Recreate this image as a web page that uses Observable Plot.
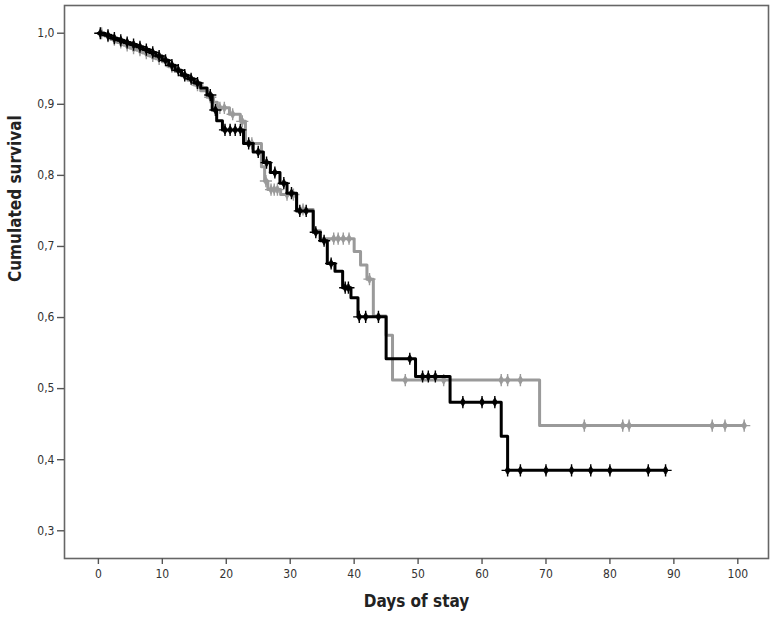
<!DOCTYPE html>
<html>
<head>
<meta charset="utf-8">
<script src="https://cdn.jsdelivr.net/npm/d3@7"></script>
<script src="https://cdn.jsdelivr.net/npm/@observablehq/plot@0.6"></script>
<style>
  html, body { margin: 0; padding: 0; background: #fff; }
</style>
</head>
<body>
<div id="chart"></div>
<script>
// ---- Data ----
const xTicks = [0, 10, 20, 30, 40, 50, 60, 70, 80, 90, 100];
const yTicks = [0.3, 0.4, 0.5, 0.6, 0.7, 0.8, 0.9, 1.0];

// Black group: step times and survival after each step
const blackTime = [0, 1, 2, 3, 4, 5, 6, 7, 8, 9, 10, 11, 12, 13, 14, 15, 16, 17, 17.8, 18.5, 19.4, 22.7, 24.2, 25.8, 26.9, 28.4, 29.5, 31.0, 33.6, 34.7, 35.8, 37.0, 38.2, 39.5, 40.6, 45, 49.6, 55, 63, 64];
const blackSurv = [1.000, 0.997, 0.993, 0.990, 0.987, 0.984, 0.981, 0.977, 0.973, 0.968, 0.962, 0.955, 0.948, 0.941, 0.936, 0.930, 0.923, 0.913, 0.892, 0.877, 0.864, 0.845, 0.833, 0.818, 0.804, 0.789, 0.775, 0.750, 0.720, 0.708, 0.676, 0.665, 0.642, 0.628, 0.601, 0.542, 0.517, 0.481, 0.433, 0.385];
const blackEnd = 88.7;
const blackCensor = [0.3, 1.5, 2.5, 3.5, 4.5, 5.5, 6.5, 7.5, 8.5, 9.5, 10.5, 11.5, 12.5, 13.5, 14.5, 15.5, 17.5, 18.3, 19.8, 20.6, 21.4, 22.2, 23.5, 25, 26.3, 27.6, 29, 30.2, 31.5, 32.5, 34, 35.3, 36.4, 38.6, 39.1, 40.8, 41.8, 43.8, 48.7, 50.7, 51.6, 52.7, 57, 60, 62, 64, 66, 70, 74, 77, 80, 86, 88.7];

// Grey group
const greyTime = [0, 1, 2, 3, 4, 5, 6, 7, 8, 9, 10, 11, 12, 13, 14, 15, 16, 17, 18, 18.6, 20.5, 22.2, 23, 25.5, 26, 26.5, 28.5, 31, 33.6, 34.7, 40, 41, 42, 43, 45, 46, 69];
const greySurv = [1.000, 0.996, 0.991, 0.987, 0.983, 0.979, 0.976, 0.972, 0.968, 0.964, 0.960, 0.953, 0.946, 0.940, 0.934, 0.927, 0.919, 0.910, 0.903, 0.895, 0.886, 0.876, 0.845, 0.812, 0.792, 0.780, 0.773, 0.752, 0.722, 0.711, 0.693, 0.674, 0.654, 0.602, 0.575, 0.512, 0.448];
const greyEnd = 101;
const greyCensor = [0.5, 1.5, 2.5, 3.5, 4.5, 5.5, 6.5, 7.5, 8.5, 9.5, 11.5, 13.5, 15.5, 17.5, 19, 19.7, 21, 22.5, 24, 26.2, 27, 27.5, 28, 29.5, 30.5, 32, 36.8, 37.5, 38.3, 39.2, 42.4, 48, 54, 63, 64, 66, 76, 82, 83, 96, 98, 101];

// ---- Build tables ----
function stepLine(T, S, end) {
  const pts = T.map((t, i) => ({t, s: S[i]}));
  pts.push({t: end, s: S[S.length - 1]});
  return pts;
}
function survAt(T, S, t) {
  let s = S[0];
  for (let i = 0; i < T.length; i++) if (T[i] <= t) s = S[i];
  return s;
}
const blackLine = stepLine(blackTime, blackSurv, blackEnd);
const greyLine = stepLine(greyTime, greySurv, greyEnd);
const blackMarks = blackCensor.map(t => ({t, s: survAt(blackTime, blackSurv, t)}));
const greyMarks = greyCensor.map(t => ({t, s: survAt(greyTime, greySurv, t)}));

const fmt = d => d.toFixed(1).replace(".", ",");
const font = "'Liberation Sans Narrow', 'DejaVu Sans Condensed', 'Liberation Sans', Arial, sans-serif";

const chart = Plot.plot({
  width: 774,
  height: 622,
  marginLeft: 64,
  marginRight: 6,
  marginTop: 5,
  marginBottom: 64,
  x: {domain: [-5.3, 104.8]},
  y: {domain: [0.261, 1.039]},
  style: {fontFamily: font, fontSize: "12px", color: "#333", background: "#fff"},
  marks: [
    Plot.frame({stroke: "#666", strokeWidth: 1.6}),
    Plot.axisX(xTicks, {tickSize: 6, tickPadding: 5, label: null, stroke: "#555", strokeWidth: 1.4, fontSize: 12}),
    Plot.axisY(yTicks, {tickSize: 7, tickPadding: 3, label: null, tickFormat: fmt, stroke: "#555", strokeWidth: 1.4, fontSize: 12}),
    Plot.line(greyLine, {x: "t", y: "s", curve: "step-after", stroke: "#9a9a9a", strokeWidth: 3}),
    Plot.dot(greyMarks, {x: "t", y: "s", symbol: "diamond", r: 2.6, fill: "#9a9a9a", stroke: "#9a9a9a", strokeWidth: 0.8}),
    Plot.dot(greyMarks, {x: "t", y: "s", symbol: "plus", r: 4, stroke: "#9a9a9a", strokeWidth: 1.4}),
    Plot.line(blackLine, {x: "t", y: "s", curve: "step-after", stroke: "#000", strokeWidth: 3}),
    Plot.dot(blackMarks, {x: "t", y: "s", symbol: "diamond", r: 2.6, fill: "#000", stroke: "#000", strokeWidth: 0.8}),
    Plot.dot(blackMarks, {x: "t", y: "s", symbol: "plus", r: 4, stroke: "#000", strokeWidth: 1.4}),
    Plot.text(["Days of stay"], {frameAnchor: "bottom", dy: 48, fontWeight: "bold", fontSize: 17, fill: "#222"}),
    Plot.text(["Cumulated survival"], {frameAnchor: "left", dx: -49, rotate: -90, fontWeight: "bold", fontSize: 17, fill: "#222"})
  ]
});
document.getElementById("chart").appendChild(chart);
</script>
</body>
</html>
